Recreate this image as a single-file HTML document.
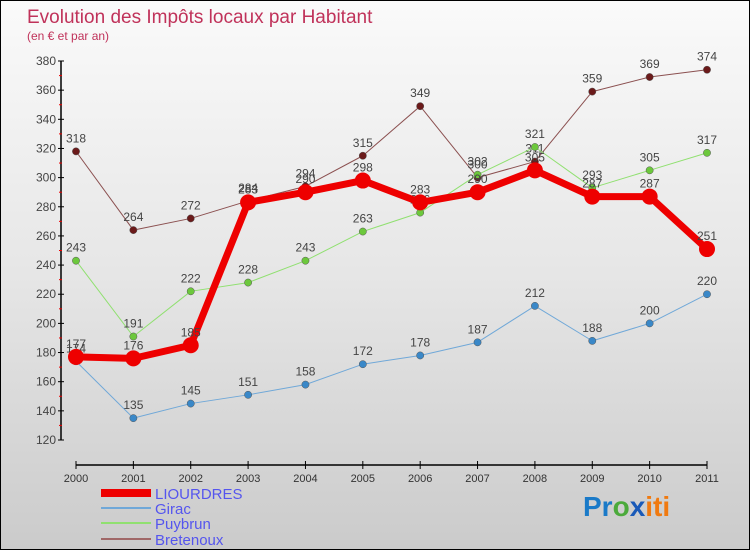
<!DOCTYPE html>
<html><head><meta charset="utf-8"><style>
body{margin:0}
#c{width:750px;height:550px;position:relative;overflow:hidden;box-sizing:border-box;border:1px solid #000;background:linear-gradient(#fafafa,#e6e6e6 50%,#cbcbcb);font-family:"Liberation Sans",sans-serif}
svg text{font-family:"Liberation Sans",sans-serif}
</style></head><body>
<div id="c">
<svg id="s" width="750" height="550">
<text x="26" y="22" font-size="19" fill="#c0325a">Evolution des Impôts locaux par Habitant</text>
<text x="26" y="39" font-size="12" fill="#c0325a">(en € et par an)</text>
<g id="ax"></g><g id="series"></g><g id="legend"></g>
<text x="582" y="515" font-size="28" font-weight="bold"><tspan fill="#1a7ac8">Pr</tspan><tspan fill="#4caa3c">o</tspan><tspan fill="#1a5ab8">x</tspan><tspan fill="#f07a10">iti</tspan></text>
</svg>
</div>
<script>
const years=["2000","2001","2002","2003","2004","2005","2006","2007","2008","2009","2010","2011"];
const yTicks=[120,140,160,180,200,220,240,260,280,300,320,340,360,380];
const seriesNames=["LIOURDRES","Girac","Puybrun","Bretenoux"];
const liourdres=[177,176,185,283,290,298,283,290,305,287,287,251];
const girac=[174,135,145,151,158,172,178,187,212,188,200,220];
const puybrun=[243,191,222,228,243,263,276,302,321,293,305,317];
const bretenoux=[318,264,272,284,294,315,349,300,311,359,369,374];
const NS="http://www.w3.org/2000/svg";
function X(i){return 75+i*(706-75)/(years.length-1);}
function Y(v){return 439-(v-120)*(439-60)/(380-120);}
function mk(tag,attrs,parent){const e=document.createElementNS(NS,tag);for(const k in attrs)e.setAttribute(k,attrs[k]);parent.appendChild(e);return e;}
const ax=document.getElementById('ax');
let l=mk('line',{x1:60,y1:60,x2:60,y2:439,stroke:'#000','stroke-width':1.5},ax);


yTicks.forEach((t,i)=>{
 mk('line',{x1:57,x2:63,y1:Y(t),y2:Y(t),stroke:'#000'},ax);
 if(i<yTicks.length-1)mk('line',{x1:58,x2:61,y1:Y(t+10),y2:Y(t+10),stroke:'#e00'},ax);
 const tx=mk('text',{x:55,y:Y(t)+4,'text-anchor':'end','font-size':12,fill:'#444'},ax);
 tx.textContent=t;
 
 
});
l=mk('line',{x1:75,y1:464,x2:706,y2:464,stroke:'#000','stroke-width':1.5},ax);


years.forEach((y,i)=>{
 mk('line',{x1:X(i),x2:X(i),y1:460,y2:468,stroke:'#000'},ax);
 const tx=mk('text',{x:X(i),y:481,'text-anchor':'middle','font-size':11,fill:'#333'},ax);
 tx.textContent=y;
 
 
});
const sg=document.getElementById('series');
const defs=[[bretenoux,'#6b1a1a','#8b5050',1,4],[puybrun,'#6cc83c','#90e070',1,4],[girac,'#3a88c8','#70a8d8',1,4],[liourdres,'#ee0000','#ee0000',7,8]];
const names=['bretenoux','puybrun','girac','liourdres'];
defs.forEach((d,k)=>{
 const [vals,dot,line,w,r]=d;
 const g=mk('g',{},sg);
 
 
 const p=mk('polyline',{points:vals.map((v,i)=>X(i)+','+Y(v)).join(' '),fill:'none',stroke:line,'stroke-width':w,'stroke-linejoin':'round'},g);
 
 
 vals.forEach((v,i)=>{
  const c=mk('circle',{cx:X(i),cy:Y(v),r:r/ (k==3?1:1.1),fill:dot,stroke:k==3?'none':'#555','stroke-width':0.5},g);
  
  
  const t=mk('text',{x:X(i),y:Y(v)-9,'text-anchor':'middle','font-size':12,fill:'#444'},g);
  t.textContent=v;
  
  
 });
});
const lg=document.getElementById('legend');
const lc=['#ee0000','#70a8d8','#90e070','#a06868'];const lw=[8,2,2,2];const ly=[492,507,522,538];
seriesNames.forEach((n,i)=>{
 const ln=mk('line',{x1:100,x2:150,y1:ly[i],y2:ly[i],stroke:lc[i],'stroke-width':lw[i]},lg);
 
 
 const t=mk('text',{x:154,y:ly[i]+6,'font-size':15,fill:'#5555ee'},lg);
 t.textContent=n;
 
 
});
</script>
</body></html>
